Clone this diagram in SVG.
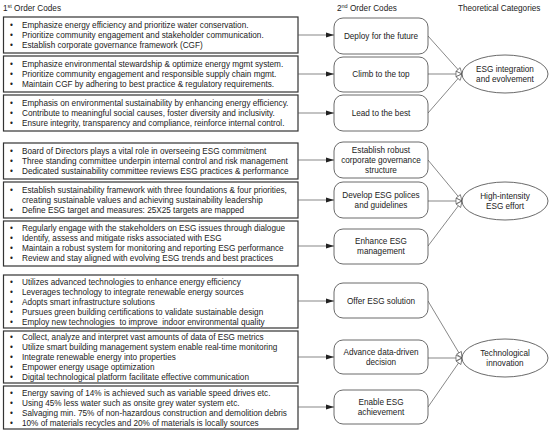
<svg xmlns="http://www.w3.org/2000/svg" width="550" height="432" viewBox="0 0 550 432">
<style>
text{font-family:"Liberation Sans",Arial,sans-serif;font-size:8.2px;fill:#222;white-space:pre}
.box{fill:#fff;stroke:#333;stroke-width:1.2}
.code{fill:#fff;stroke:#444;stroke-width:0.8}
.cat{fill:#fff;stroke:#444;stroke-width:0.8}
.c{text-anchor:middle}
.ln{stroke:#555;stroke-width:0.7;fill:none}
</style>
<defs>
<marker id="ah" markerWidth="8" markerHeight="6" refX="8" refY="3" orient="auto" markerUnits="userSpaceOnUse">
<path d="M0,0.5 L8,3 L0,5.5 Z" fill="#222"/>
</marker>
<marker id="oh" markerWidth="9" markerHeight="8" refX="7" refY="4" orient="auto" markerUnits="userSpaceOnUse">
<path d="M1,1.2 L7,4 L1,6.8 Z" fill="#fff" stroke="#555" stroke-width="0.7"/>
</marker>
</defs>
<rect width="550" height="432" fill="#fff"/>
<g id="headers">
<text x="3" y="11">1<tspan font-size="5.5" dy="-3">st</tspan><tspan dy="3"> Order Codes</tspan></text>
<text x="337" y="11">2<tspan font-size="5.5" dy="-3">nd</tspan><tspan dy="3"> Order Codes</tspan></text>
<text x="458" y="11">Theoretical Categories</text>
</g>
<g id="first-order">
<g id="b1"><rect class="box" x="3.5" y="17" width="294.5" height="36"/>
<text x="10" y="28">•</text><text x="22" y="28">Emphasize energy efficiency and prioritize water conservation.</text>
<text x="10" y="38">•</text><text x="22" y="38">Prioritize community engagement and stakeholder communication.</text>
<text x="10" y="48">•</text><text x="22" y="48">Establish corporate governance framework (CGF)</text></g>
<g id="b2"><rect class="box" x="3.5" y="56" width="294.5" height="36"/>
<text x="10" y="67">•</text><text x="22" y="67">Emphasize environmental stewardship &amp; optimize energy mgmt system.</text>
<text x="10" y="77">•</text><text x="22" y="77">Prioritize community engagement and responsible supply chain mgmt.</text>
<text x="10" y="87">•</text><text x="22" y="87">Maintain CGF by adhering to best practice &amp; regulatory requirements.</text></g>
<g id="b3"><rect class="box" x="3.5" y="95" width="294.5" height="36"/>
<text x="10" y="106">•</text><text x="22" y="106">Emphasis on environmental sustainability by enhancing energy efficiency.</text>
<text x="10" y="116">•</text><text x="22" y="116">Contribute to meaningful social causes, foster diversity and inclusivity.</text>
<text x="10" y="126">•</text><text x="22" y="126">Ensure integrity, transparency and compliance, reinforce internal control.</text></g>
<g id="b4"><rect class="box" x="3.5" y="143" width="294.5" height="36"/>
<text x="10" y="154">•</text><text x="22" y="154">Board of Directors plays a vital role in overseeing ESG commitment</text>
<text x="10" y="164">•</text><text x="22" y="164">Three standing committee underpin internal control and risk management</text>
<text x="10" y="174">•</text><text x="22" y="174">Dedicated sustainability committee reviews ESG practices &amp; performance</text></g>
<g id="b5"><rect class="box" x="3.5" y="182" width="294.5" height="36"/>
<text x="10" y="193">•</text><text x="22" y="193">Establish sustainability framework with three foundations &amp; four priorities,</text>
<text x="22" y="203">creating sustainable values and achieving sustainability leadership</text>
<text x="10" y="213">•</text><text x="22" y="213">Define ESG target and measures: 25X25 targets are mapped</text></g>
<g id="b6"><rect class="box" x="3.5" y="221" width="294.5" height="45"/>
<text x="10" y="231">•</text><text x="22" y="231">Regularly engage with the stakeholders on ESG issues through dialogue</text>
<text x="10" y="241">•</text><text x="22" y="241">Identify, assess and mitigate risks associated with ESG</text>
<text x="10" y="251">•</text><text x="22" y="251">Maintain a robust system for monitoring and reporting ESG performance</text>
<text x="10" y="261">•</text><text x="22" y="261">Review and stay aligned with evolving ESG trends and best practices</text></g>
<g id="b7"><rect class="box" x="3.5" y="275" width="294.5" height="53"/>
<text x="10" y="284.5">•</text><text x="22" y="284.5">Utilizes advanced technologies to enhance energy efficiency</text>
<text x="10" y="294.5">•</text><text x="22" y="294.5">Leverages technology to integrate renewable energy sources</text>
<text x="10" y="304.5">•</text><text x="22" y="304.5">Adopts smart infrastructure solutions</text>
<text x="10" y="314.5">•</text><text x="22" y="314.5">Pursues green building certifications to validate sustainable design</text>
<text x="10" y="324.5">•</text><text x="22" y="324.5">Employ new technologies  to improve  indoor environmental quality</text></g>
<g id="b8"><rect class="box" x="3.5" y="331" width="294.5" height="52"/>
<text x="10" y="340">•</text><text x="22" y="340">Collect, analyze and interpret vast amounts of data of ESG metrics</text>
<text x="10" y="350">•</text><text x="22" y="350">Utilize smart building management system enable real-time monitoring</text>
<text x="10" y="360">•</text><text x="22" y="360">Integrate renewable energy into properties</text>
<text x="10" y="370">•</text><text x="22" y="370">Empower energy usage optimization</text>
<text x="10" y="380">•</text><text x="22" y="380">Digital technological platform facilitate effective communication</text></g>
<g id="b9"><rect class="box" x="3.5" y="386" width="294.5" height="43"/>
<text x="10" y="395.5">•</text><text x="22" y="395.5">Energy saving of 14% is achieved such as variable speed drives etc.</text>
<text x="10" y="405.5">•</text><text x="22" y="405.5">Using 45% less water such as onsite grey water system etc.</text>
<text x="10" y="415.5">•</text><text x="22" y="415.5">Salvaging min. 75% of non-hazardous construction and demolition debris</text>
<text x="10" y="425.5">•</text><text x="22" y="425.5">10% of materials recycles and 20% of materials is locally sources</text></g>
</g>
<g id="connectors">
<line class="ln" x1="298" y1="35" x2="334" y2="35" marker-end="url(#ah)"/>
<line class="ln" x1="298" y1="74" x2="334" y2="74" marker-end="url(#ah)"/>
<line class="ln" x1="298" y1="113" x2="334" y2="113" marker-end="url(#ah)"/>
<line class="ln" x1="298" y1="160" x2="334" y2="160" marker-end="url(#ah)"/>
<line class="ln" x1="298" y1="200" x2="334" y2="200" marker-end="url(#ah)"/>
<line class="ln" x1="298" y1="246" x2="334" y2="246" marker-end="url(#ah)"/>
<line class="ln" x1="298" y1="301" x2="334" y2="301" marker-end="url(#ah)"/>
<line class="ln" x1="298" y1="357" x2="334" y2="357" marker-end="url(#ah)"/>
<line class="ln" x1="298" y1="407" x2="334" y2="407" marker-end="url(#ah)"/>
<line class="ln" x1="428" y1="36" x2="462" y2="74" marker-end="url(#oh)"/>
<line class="ln" x1="428" y1="74" x2="462" y2="74" marker-end="url(#oh)"/>
<line class="ln" x1="428" y1="113" x2="462" y2="74" marker-end="url(#oh)"/>
<line class="ln" x1="428" y1="160" x2="462" y2="201" marker-end="url(#oh)"/>
<line class="ln" x1="428" y1="201" x2="462" y2="201" marker-end="url(#oh)"/>
<line class="ln" x1="428" y1="246" x2="462" y2="201" marker-end="url(#oh)"/>
<line class="ln" x1="428" y1="301" x2="462" y2="358" marker-end="url(#oh)"/>
<line class="ln" x1="428" y1="358" x2="462" y2="358" marker-end="url(#oh)"/>
<line class="ln" x1="428" y1="407" x2="462" y2="358" marker-end="url(#oh)"/>
</g>
<g id="second-order">
<g id="s1"><rect class="code" x="334" y="18" width="94" height="36" rx="9"/><text class="c" x="381" y="39">Deploy for the future</text></g>
<g id="s2"><rect class="code" x="334" y="57" width="94" height="35" rx="9"/><text class="c" x="381" y="77">Climb to the top</text></g>
<g id="s3"><rect class="code" x="334" y="95" width="94" height="36" rx="9"/><text class="c" x="381" y="116">Lead to the best</text></g>
<g id="s4"><rect class="code" x="334" y="142" width="94" height="36" rx="9"/><text class="c" x="381" y="153">Establish robust</text><text class="c" x="381" y="163">corporate governance</text><text class="c" x="381" y="173">structure</text></g>
<g id="s5"><rect class="code" x="334" y="182" width="94" height="36" rx="9"/><text class="c" x="381" y="198">Develop ESG polices</text><text class="c" x="381" y="208">and guidelines</text></g>
<g id="s6"><rect class="code" x="334" y="229" width="94" height="35" rx="9"/><text class="c" x="381" y="244">Enhance ESG</text><text class="c" x="381" y="254">management</text></g>
<g id="s7"><rect class="code" x="334" y="283" width="94" height="35" rx="9"/><text class="c" x="381" y="303.5">Offer ESG solution</text></g>
<g id="s8"><rect class="code" x="334" y="340" width="94" height="34" rx="9"/><text class="c" x="381" y="355">Advance data-driven</text><text class="c" x="381" y="365">decision</text></g>
<g id="s9"><rect class="code" x="334" y="390" width="94" height="34" rx="9"/><text class="c" x="381" y="405">Enable ESG</text><text class="c" x="381" y="415">achievement</text></g>
</g>
<g id="categories">
<g id="t1"><ellipse class="cat" cx="505" cy="74" rx="43" ry="19"/><text class="c" x="505" y="72">ESG integration</text><text class="c" x="505" y="82">and evolvement</text></g>
<g id="t2"><ellipse class="cat" cx="505" cy="201" rx="43" ry="19"/><text class="c" x="505" y="199">High-intensity</text><text class="c" x="505" y="209">ESG effort</text></g>
<g id="t3"><ellipse class="cat" cx="505" cy="358" rx="43" ry="19"/><text class="c" x="505" y="356">Technological</text><text class="c" x="505" y="366">innovation</text></g>
</g>
</svg>
